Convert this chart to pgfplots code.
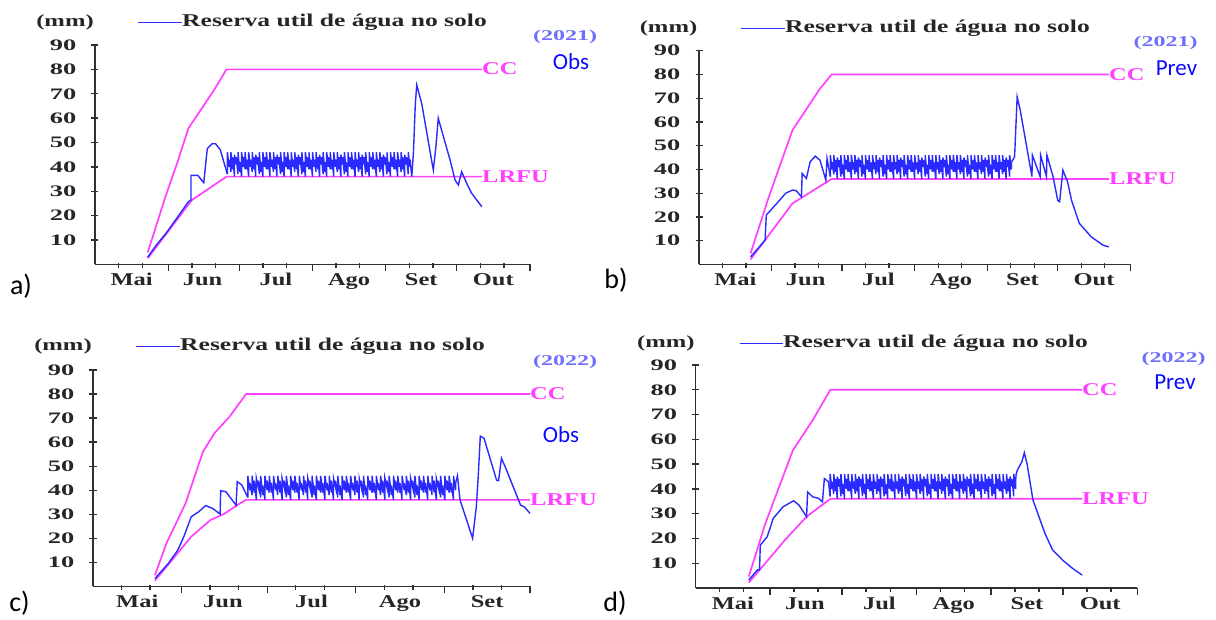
\documentclass[border=0pt]{standalone}
\usepackage{pgfplots}
\usepackage{pgfplotstable}
\pgfplotsset{compat=1.18}
\usepackage{fontspec}
\setmainfont{Liberation Serif}
\newfontfamily\calib{Carlito}
\usepackage{graphicx}
\definecolor{mag}{HTML}{FF40FF}
\definecolor{bl}{HTML}{2A2AFF}
\definecolor{yr}{HTML}{6E6EFF}
\definecolor{ob}{HTML}{0A0AFF}
\definecolor{axc}{HTML}{303030}
\definecolor{txc}{HTML}{262626}
\newcommand\sx[1]{\scalebox{1.36}[1]{#1}}
\newcommand\sy[1]{\scalebox{1.65}[1]{#1}}
\newcommand\slg[1]{\scalebox{1.42}[1]{#1}}
\newcommand\syr[1]{\scalebox{1.6}[1]{#1}}
\newcommand\smm[1]{\scalebox{1.45}[1]{#1}}
% irrigation oscillation (panels a, b, d)
\pgfplotstableread[row sep=\\]{x y\\
56 37\\56 46\\56.75 40\\56.75 43\\57.5 38\\57.5 46\\58.25 39\\58.25 44\\59 36\\59 45\\59.75 41\\59.75 44\\
60.5 37\\60.5 46\\61.25 38\\61.25 42\\62 36\\62 46\\62.75 40\\62.75 44\\63.5 39\\63.5 46\\64.25 39\\64.25 43\\
65 36\\65 46\\65.75 40\\65.75 43\\66.5 38\\66.5 46\\67.25 39\\67.25 44\\68 36\\68 45\\68.75 41\\68.75 44\\
69.5 37\\69.5 46\\70.25 38\\70.25 42\\71 36\\71 46\\71.75 40\\71.75 44\\72.5 39\\72.5 46\\73.25 39\\73.25 43\\
74 36\\74 46\\74.75 40\\74.75 43\\75.5 38\\75.5 46\\76.25 39\\76.25 44\\77 36\\77 45\\77.75 41\\77.75 44\\
78.5 37\\78.5 46\\79.25 38\\79.25 42\\80 36\\80 46\\80.75 40\\80.75 44\\81.5 39\\81.5 46\\82.25 39\\82.25 43\\
83 36\\83 46\\83.75 40\\83.75 43\\84.5 38\\84.5 46\\85.25 39\\85.25 44\\86 36\\86 45\\86.75 41\\86.75 44\\
87.5 37\\87.5 46\\88.25 38\\88.25 42\\89 36\\89 46\\89.75 40\\89.75 44\\90.5 39\\90.5 46\\91.25 39\\91.25 43\\
92 36\\92 46\\92.75 40\\92.75 43\\93.5 38\\93.5 46\\94.25 39\\94.25 44\\95 36\\95 45\\95.75 41\\95.75 44\\
96.5 37\\96.5 46\\97.25 38\\97.25 42\\98 36\\98 46\\98.75 40\\98.75 44\\99.5 39\\99.5 46\\100.25 39\\100.25 43\\
101 36\\101 46\\101.75 40\\101.75 43\\102.5 38\\102.5 46\\103.25 39\\103.25 44\\104 36\\104 45\\104.75 41\\104.75 44\\
105.5 37\\105.5 46\\106.25 38\\106.25 42\\107 36\\107 46\\107.75 40\\107.75 44\\108.5 39\\108.5 46\\109.25 39\\109.25 43\\
110 36\\110 46\\110.75 40\\110.75 43\\111.5 38\\111.5 46\\112.25 39\\112.25 44\\113 36\\113 45\\113.75 41\\113.75 44\\
114.5 37\\114.5 46\\115.25 38\\115.25 42\\116 36\\116 46\\116.75 40\\116.75 44\\117.5 39\\117.5 46\\118.25 39\\118.25 43\\
119 36\\119 46\\119.75 40\\119.75 43\\120.5 38\\120.5 46\\121.25 39\\121.25 44\\122 36\\122 45\\122.75 41\\122.75 44\\
123.5 37\\123.5 46\\124.25 38\\124.25 42\\125 36\\125 46\\125.75 40\\125.75 44\\126.5 39\\126.5 46\\127.25 39\\127.25 43\\
128 36\\128 46\\128.75 40\\128.75 43\\129.5 38\\129.5 46\\130.25 39\\130.25 44\\131 36\\131 45\\131.75 41\\131.75 44\\
132.5 37\\132.5 46\\133.25 40\\133.25 43\\
}\oscABD
% irrigation oscillation (panel c)
\pgfplotstableread[row sep=\\]{x y\\
54.2 37\\54.2 46\\54.95 40\\54.95 43\\55.7 38\\55.7 46\\56.45 39\\56.45 44\\57.2 36\\57.2 45\\57.95 41\\57.95 44\\
58.7 37\\58.7 46\\59.45 38\\59.45 42\\60.2 36\\60.2 46\\60.95 40\\60.95 44\\61.7 39\\61.7 46\\62.45 39\\62.45 43\\
63.2 36\\63.2 46\\63.95 40\\63.95 43\\64.7 38\\64.7 46\\65.45 39\\65.45 44\\66.2 36\\66.2 45\\66.95 41\\66.95 44\\
67.7 37\\67.7 46\\68.45 38\\68.45 42\\69.2 36\\69.2 46\\69.95 40\\69.95 44\\70.7 39\\70.7 46\\71.45 39\\71.45 43\\
72.2 36\\72.2 46\\72.95 40\\72.95 43\\73.7 38\\73.7 46\\74.45 39\\74.45 44\\75.2 36\\75.2 45\\75.95 41\\75.95 44\\
76.7 37\\76.7 46\\77.45 38\\77.45 42\\78.2 36\\78.2 46\\78.95 40\\78.95 44\\79.7 39\\79.7 46\\80.45 39\\80.45 43\\
81.2 36\\81.2 46\\81.95 40\\81.95 43\\82.7 38\\82.7 46\\83.45 39\\83.45 44\\84.2 36\\84.2 45\\84.95 41\\84.95 44\\
85.7 37\\85.7 46\\86.45 38\\86.45 42\\87.2 36\\87.2 46\\87.95 40\\87.95 44\\88.7 39\\88.7 46\\89.45 39\\89.45 43\\
90.2 36\\90.2 46\\90.95 40\\90.95 43\\91.7 38\\91.7 46\\92.45 39\\92.45 44\\93.2 36\\93.2 45\\93.95 41\\93.95 44\\
94.7 37\\94.7 46\\95.45 38\\95.45 42\\96.2 36\\96.2 46\\96.95 40\\96.95 44\\97.7 39\\97.7 46\\98.45 39\\98.45 43\\
99.2 36\\99.2 46\\99.95 40\\99.95 43\\100.7 38\\100.7 46\\101.45 39\\101.45 44\\102.2 36\\102.2 45\\102.95 41\\102.95 44\\
103.7 37\\103.7 46\\104.45 38\\104.45 42\\105.2 36\\105.2 46\\105.95 40\\105.95 44\\106.7 39\\106.7 46\\107.45 39\\107.45 43\\
108.2 36\\108.2 46\\108.95 40\\108.95 43\\109.7 38\\109.7 46\\110.45 39\\110.45 44\\111.2 36\\111.2 45\\111.95 41\\111.95 44\\
112.7 37\\112.7 46\\113.45 38\\113.45 42\\114.2 36\\114.2 46\\114.95 40\\114.95 44\\115.7 39\\115.7 46\\116.45 39\\116.45 43\\
117.2 36\\117.2 46\\117.95 40\\117.95 43\\118.7 38\\118.7 46\\119.45 39\\119.45 44\\120.2 36\\120.2 45\\120.95 41\\120.95 44\\
121.7 37\\121.7 46\\122.45 38\\122.45 42\\123.2 36\\123.2 46\\123.95 40\\123.95 44\\124.7 39\\124.7 46\\125.45 39\\125.45 43\\
126.2 36\\126.2 46\\126.95 40\\126.95 43\\
}\oscC
\pgfplotsset{panel/.style={
  scale only axis, ymin=0, ymax=90, xmin=0, enlargelimits=false, clip=false,
  axis x line*=bottom, axis y line*=left,
  axis line style={line width=1.5pt, draw=axc},
  tick style={line width=1.3pt, draw=axc},
  tick align=center, major tick length=7pt, minor tick length=5pt,
  ytick={10,20,...,90},
  yticklabels={\sy{10},\sy{20},\sy{30},\sy{40},\sy{50},\sy{60},\sy{70},\sy{80},\sy{90}},
  yticklabel style={anchor=east, inner sep=0pt, xshift=-15pt, font=\fontsize{16}{16}\selectfont\bfseries, text=txc},
  xticklabels={},
  xtick style={yshift=-3.5pt},
  minor x tick style={yshift=2pt},
  extra x tick style={major tick length=0pt},
  xticklabel style={anchor=base, inner sep=0pt, yshift=-21.5pt, font=\fontsize{18}{18}\selectfont\bfseries, text=txc},
  every axis plot/.append style={no markers},
  cc/.style={mag, line width=1.7pt},
  rw/.style={bl, line width=1.4pt},
}}
\begin{document}
\begin{tikzpicture}
\path[use as bounding box] (0,0) rectangle (1216pt,-619pt);
% ---------------- panel a
\begin{axis}[panel, at={(95pt,-264.4pt)}, anchor=south west, width=435pt, height=219.4pt, xmax=184,
  xtick={31,61,92,123,153,184},
  minor xtick={10,20,41,51,71,81,102,112,133,143,163,173},
  extra x ticks={15.5,45.5,76.5,107.5,138,168.5},
  extra x tick labels={\sx{Mai},\sx{Jun},\sx{Jul},\sx{Ago},\sx{Set},\sx{Out}}]
\addplot[cc] coordinates {(22.3,4.9) (29.8,27.8) (34.7,41.4) (39.5,55.8) (50.8,72.2) (55.6,80) (163.7,80)};
\addplot[cc] coordinates {(22.3,2.5) (41,26.4) (55.6,36) (163.7,36)};
\addplot[rw] coordinates {(22.3,3) (26,8) (30,12.7) (35,19.5) (39.5,25.7) (40.6,26.4) (40.6,36.5) (43.5,36.5) (46,33.5) (47.5,47.5) (49.5,49.5) (51,49.5) (53,47) (56,37)};
\addplot[rw] table {\oscABD};
\addplot[rw] coordinates {(133.25,43)(134,36)(134.7,46)(135.5,66) (136.1,73.6) (138.2,66) (143.1,38.7) (144.2,48.3) (145.2,60) (146.6,55.1) (150.2,42.8) (152.3,34.6) (153.7,32.6) (155.1,38) (157.2,33.3) (159.3,29.2) (163.6,23.7)};
\end{axis}
% ---------------- panel b
\begin{axis}[panel, at={(699pt,-264.4pt)}, anchor=south west, width=431.4pt, height=213.7pt, xmax=184,
  xtick={31,61,92,123,153,184},
  minor xtick={10,20,41,51,71,81,102,112,133,143,163,173},
  extra x ticks={15.5,45.5,76.5,107.5,138,168.5},
  extra x tick labels={\sx{Mai},\sx{Jun},\sx{Jul},\sx{Ago},\sx{Set},\sx{Out}}]
\addplot[cc] coordinates {(22,4.6) (29.8,28.5) (39.9,56.6) (51.6,74) (56.6,80) (174.8,80)};
\addplot[cc] coordinates {(22,2.1) (39.9,25.7) (56.6,36) (174.8,36)};
\addplot[rw] coordinates {(22,3.2)(28.2,10.2)(28.7,20.8)(33.2,25.7)(37,30)(39.9,31.3)(41.5,31)(43.7,28.5)(44,38.3)(45.8,36.2)(47.4,43.2)(49.6,45.6)(51.6,43.9)(54.1,35.5)(54.6,44.6)(56,37)};
\addplot[rw] table {\oscABD};
\addplot[rw] coordinates {(133.25,43)(134.6,45.3)(135.7,70.6)(137,65)(142,37)(142.2,46)(145.5,37)(145.7,46)(148.2,37)(148.4,46)(151,37)(153,27)(153.8,26.4)(155.2,39.7)(157.2,34.8)(158.9,27)(162.2,17.3)(167.3,11.6)(172.3,8.1)(174.8,7.4)};
\end{axis}
% ---------------- panel c
\begin{axis}[panel, at={(93pt,-586.4pt)}, anchor=south west, width=437pt, height=216.4pt, xmax=153,
  xtick={31,61,92,123,153},
  minor xtick={10,20,41,51,71,81,102,112,133,143},
  extra x ticks={15.5,45.5,76.5,107.5,138},
  extra x tick labels={\sx{Mai},\sx{Jun},\sx{Jul},\sx{Ago},\sx{Set}}]
\addplot[cc] coordinates {(21.7,4.7) (25.7,17.9) (32.4,34.5) (38.5,56) (42.5,63.7) (47.8,70.6) (53.6,80) (153,80)};
\addplot[cc] coordinates {(21.7,2.4) (27.7,11) (34.4,20.7) (41.1,27.6) (45.8,30.1) (50.5,33.8) (53.6,36) (153,36)};
\addplot[rw] coordinates {(21.7,3.3)(26.4,9.6)(29.7,15.1)(31.8,20.7)(34.4,29)(37.1,31.1)(39.4,33.6)(41.8,32.5)(44.5,30.1)(44.7,39.8)(46.5,39.4)(49.2,35.2)(50.1,33.8)(50.5,43.6)(52.1,42.2)(54.2,37)};
\addplot[rw] table {\oscC};
\addplot[rw] coordinates {(126.95,43)(127.6,46)(128.5,36)(132.9,20)(134.2,33)(134.9,46.3)(135.6,62.5)(136.9,61.6)(141.3,44.2)(142,44)(143,53.3)(144.3,49.8)(149.7,33.8)(151,33.1)(153,30.4)};
\end{axis}
% ---------------- panel d
\begin{axis}[panel, at={(695.7pt,-588pt)}, anchor=south west, width=441.7pt, height=223pt, xmax=184,
  xtick={31,61,92,123,153,184},
  minor xtick={10,20,41,51,71,81,102,112,133,143,163,173},
  extra x ticks={15.5,45.5,76.5,107.5,138,168.5},
  extra x tick labels={\sx{Mai},\sx{Jun},\sx{Jul},\sx{Ago},\sx{Set},\sx{Out}}]
\addplot[cc] coordinates {(22.1,4.6) (29,26) (40.5,55.6) (48.7,67.7) (56.1,80) (161,80)};
\addplot[cc] coordinates {(22.1,2.2) (29,10) (37.2,19.4) (46.2,28.8) (56.1,36) (161,36)};
\addplot[rw] coordinates {(22.1,3.2)(25.7,7.3)(26.6,7.3)(26.9,17.3)(29.8,20.7)(32.3,28.1)(36.4,32.8)(40.8,35.2)(43,33.5)(46.2,28.8)(46.6,38.8)(48.7,36.8)(51.2,36.2)(52.8,34.8)(53.6,44.2)(55.3,42.9)(56,37)};
\addplot[rw] table {\oscABD};
\addplot[rw] coordinates {(133.25,43)(133.5,46)(134,47.6)(135.9,51)(136.9,54.6)(138,50.3)(140.5,35.5)(145.5,22)(148.7,15.3)(152.8,11.3)(157,7.9)(161,5.2)};
\end{axis}
% ---------------- texts
\tikzset{mm/.style={inner sep=0pt, text=txc, font=\fontsize{17}{17}\selectfont\bfseries},
  leg/.style={anchor=west, inner sep=0pt, text=txc, font=\fontsize{18}{18}\selectfont\bfseries},
  yrs/.style={inner sep=0pt, text=yr, font=\fontsize{15}{15}\selectfont\bfseries},
  ob/.style={inner sep=0pt, text=ob, font=\calib\fontsize{23}{23}\selectfont},
  lab/.style={anchor=west, inner sep=0pt, text=mag, font=\fontsize{18}{18}\selectfont\bfseries},
  pl/.style={inner sep=0pt, text=black, font=\calib\fontsize{28}{28}\selectfont}}
% a
\node[mm] at (65pt,-22.7pt) {\smm{(mm)}};
\draw[bl, line width=1.3pt] (138pt,-22.7pt) -- (182pt,-22.7pt);
\node[leg] at (182pt,-22.7pt) {\slg{Reserva util de água no solo}};
\node[yrs] at (565pt,-37pt) {\syr{(2021)}};
\node[ob] at (571pt,-62pt) {Obs};
\node[lab] at (482pt,-69pt) {\sx{CC}};
\node[lab] at (482pt,-177pt) {\sx{LRFU}};
\node[pl] at (21pt,-286pt) {a)};
% b
\node[mm] at (668.5pt,-28.3pt) {\smm{(mm)}};
\draw[bl, line width=1.3pt] (741pt,-28.3pt) -- (785pt,-28.3pt);
\node[leg] at (785pt,-28.3pt) {\slg{Reserva util de água no solo}};
\node[yrs] at (1165.5pt,-43.3pt) {\syr{(2021)}};
\node[ob] at (1176.5pt,-68.3pt) {Prev};
\node[lab] at (1109pt,-74.4pt) {\sx{CC}};
\node[lab] at (1109pt,-178.9pt) {\sx{LRFU}};
\node[pl] at (616pt,-280pt) {b)};
% c
\node[mm] at (63pt,-346.7pt) {\smm{(mm)}};
\draw[bl, line width=1.3pt] (136pt,-346.7pt) -- (180pt,-346.7pt);
\node[leg] at (180pt,-346.7pt) {\slg{Reserva util de água no solo}};
\node[yrs] at (565pt,-361.7pt) {\syr{(2022)}};
\node[ob] at (561pt,-435pt) {Obs};
\node[lab] at (530pt,-394.1pt) {\sx{CC}};
\node[lab] at (530pt,-499.9pt) {\sx{LRFU}};
\node[pl] at (19.5pt,-603pt) {c)};
% d
\node[mm] at (665.8pt,-343.3pt) {\smm{(mm)}};
\draw[bl, line width=1.3pt] (739.8pt,-343.3pt) -- (783pt,-343.3pt);
\node[leg] at (783pt,-343.3pt) {\slg{Reserva util de água no solo}};
\node[yrs] at (1173.5pt,-359.3pt) {\syr{(2022)}};
\node[ob] at (1175pt,-381.7pt) {Prev};
\node[lab] at (1082pt,-389.8pt) {\sx{CC}};
\node[lab] at (1082pt,-498.8pt) {\sx{LRFU}};
\node[pl] at (615pt,-603pt) {d)};
\end{tikzpicture}
\end{document}
